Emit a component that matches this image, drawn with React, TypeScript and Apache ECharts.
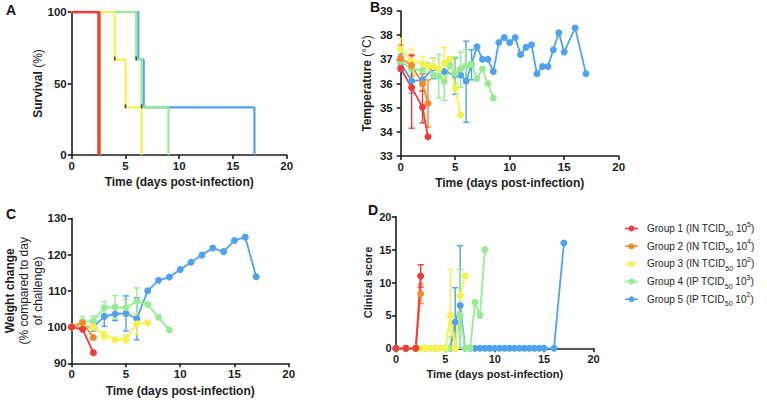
import React, { useEffect, useRef } from 'react';
import * as echarts from 'echarts';

const FONT = '"Liberation Sans", Arial, Helvetica, sans-serif';
const INK = '#1e1e1e';

// ---- groups ----
const groupNames = ['Group 1', 'Group 2', 'Group 3', 'Group 4', 'Group 5'];
const groupRoutes = ['IN', 'IN', 'IN', 'IP', 'IP'];
const groupDoseExp = ['5', '4', '2', '3', '2'];
const groupColors = ['#ef3b3b', '#f5892a', '#f6f24c', '#96ec92', '#4fa2f0'];

// ---- A: survival (%) steps, [day, survival] ----
const survivalG1 = [[0, 100], [2.5, 0]];
const survivalG2 = [[0, 100], [2.6, 0]];
const survivalG3 = [[0, 100], [4, 66.7], [5, 33.3], [6.5, 0]];
const survivalG4 = [[0, 100], [6, 66.7], [6.5, 33.3], [9, 0]];
const survivalG5 = [[0, 100], [6.2, 66.7], [6.7, 33.3], [17, 0]];
const survivalTicks = [[4, 66.7], [5, 33.3], [6, 66.7], [6.5, 33.3]];

// ---- B: temperature (°C), [day, mean] and [day, low, high] ----
const tempG1 = [[0, 36.63], [1, 35.83], [2, 35.02], [2.5, 33.8]];
const tempErrG1 = [[1, 34.15, 37.15], [2, 34.37, 35.7]];
const tempG2 = [[0, 37.04], [1, 36.74], [2, 36.0], [2.5, 35.18]];
const tempErrG2 = [[0, 36.55, 37.6], [1, 36.3, 37.2], [2, 35.7, 36.4], [2.5, 34.2, 36.15]];
const tempG3 = [[0, 37.41], [1, 36.93], [2, 36.83], [2.5, 36.7], [3, 36.7], [3.5, 36.6], [4, 36.85], [4.5, 37.0], [5, 35.8], [5.5, 34.7]];
const tempErrG3 = [[0, 36.95, 37.87], [1, 36.45, 37.42], [2, 36.55, 37.12], [3, 36.35, 37.05], [4, 36.2, 37.5], [4.5, 36.85, 37.1]];
const tempG4 = [[0, 36.9], [1, 36.6], [2, 36.55], [2.5, 36.75], [3, 36.35], [3.5, 36.3], [4, 36.07], [4.5, 36.75], [5, 36.4], [5.5, 36.6], [6, 36.72], [6.5, 36.8], [7, 36.2], [7.5, 36.6], [8, 36.0], [8.5, 35.4]];
const tempErrG4 = [[3.5, 35.4, 37.2], [4, 35.3, 36.85], [5, 36.0, 37.1], [5.5, 35.85, 37.3], [6, 36.0, 37.4]];
const tempG5 = [[0, 36.85], [1, 36.1], [2, 36.15], [3, 36.65], [4, 36.5], [5, 36.35], [5.5, 36.35], [6, 36.1], [6.5, 36.8], [7, 37.52], [7.5, 37.0], [8, 37.0], [8.5, 36.5], [9, 37.7], [9.5, 37.9], [10, 37.7], [10.5, 37.9], [11, 37.2], [11.5, 37.5], [12, 37.6], [12.5, 36.4], [13, 36.7], [13.5, 36.7], [14, 37.4], [14.5, 38.1], [15, 37.3], [16, 38.3], [17, 36.4]];
const tempErrG5 = [[0, 36.5, 37.2], [1, 35.6, 36.6], [2, 35.9, 36.4], [3, 36.2, 37.05], [5, 35.55, 37.05], [6, 34.4, 37.75], [6.5, 36.15, 37.4]];

// ---- C: weight change (%), [day, mean] and [day, low, high] ----
const weightG1 = [[0, 100], [1, 99.4], [2, 92.9]];
const weightErrG1: number[][] = [];
const weightG2 = [[0, 100], [1, 101.2], [2, 97.1]];
const weightErrG2 = [[1, 100.5, 101.9]];
const weightG3 = [[0, 100], [1, 100.6], [2, 100.1], [3, 97.7], [4, 96.5], [5, 96.7], [6, 100.9], [7, 101.2]];
const weightErrG3 = [[1, 99.8, 101.4], [2, 99.0, 101.2], [3, 96.7, 98.7], [4, 96.0, 97.0], [5, 95.6, 97.8], [6, 97.9, 103.7]];
const weightG4 = [[0, 100], [1, 101.5], [2, 101.6], [3, 105.4], [4, 105.5], [5, 105.3], [6, 107.1], [7, 106.2], [8, 102.7], [9, 99.2]];
const weightErrG4 = [[1, 100.4, 102.9], [2, 100.5, 103.0], [3, 103.7, 107.1], [4, 102.2, 108.7], [5, 103.0, 107.6], [6, 103.4, 110.8]];
const weightG5 = [[0, 100], [1, 100.3], [2, 100.0], [3, 102.9], [4, 103.6], [5, 103.8], [6, 102.3], [7, 110.0], [8, 112.9], [9, 113.8], [10, 115.9], [11, 117.9], [12, 119.9], [13, 121.8], [14, 120.8], [15, 123.9], [16, 124.8], [17, 113.9]];
const weightErrG5 = [[2, 98.8, 101.2], [3, 100.2, 105.6], [4, 101.8, 105.5], [5, 98.9, 108.6], [6, 96.5, 108.1]];

// ---- D: clinical score, [day, mean] and [day, low, high] ----
const clinG1 = [[0, 0], [1, 0], [2, 0], [2.5, 11]];
const clinErrG1 = [[2.5, 9.3, 12.7]];
const clinG2 = [[0, 0], [1, 0], [2, 0], [2.5, 8.3]];
const clinErrG2 = [[2.5, 6.8, 9.8]];
const clinG3 = [[0, 0], [1, 0], [2, 0], [2.5, 0], [3, 0], [3.5, 0], [4, 0], [4.5, 0], [5, 0], [5.5, 5], [6, 0], [6.5, 8], [7, 11]];
const clinErrG3 = [[5.5, 0, 12]];
const clinG4 = [[0, 0], [1, 0], [2, 0], [3, 0], [4, 0], [5, 0], [5.5, 0], [6, 0], [6.5, 5], [7, 0], [7.5, 0], [8, 7], [8.5, 5], [9, 15]];
const clinErrG4 = [[5.5, 0, 1.8], [6.5, 0, 12]];
const clinG5 = [[0, 0], [1, 0], [2, 0], [3, 0], [4, 0], [5, 0], [5.5, 0], [6, 4], [6.5, 6.5], [7, 0], [7.5, 0], [8, 0], [8.5, 0], [9, 0], [9.5, 0], [10, 0], [10.5, 0], [11, 0], [11.5, 0], [12, 0], [12.5, 0], [13, 0], [13.5, 0], [14, 0], [14.5, 0], [15, 0], [16, 0], [17, 16]];
const clinErrG5 = [[6, 0, 9.2], [6.5, 0, 15.6]];

const survival = [survivalG1, survivalG2, survivalG3, survivalG4, survivalG5];
const temp = [tempG1, tempG2, tempG3, tempG4, tempG5];
const tempErr = [tempErrG1, tempErrG2, tempErrG3, tempErrG4, tempErrG5];
const weight = [weightG1, weightG2, weightG3, weightG4, weightG5];
const weightErr = [weightErrG1, weightErrG2, weightErrG3, weightErrG4, weightErrG5];
const clin = [clinG1, clinG2, clinG3, clinG4, clinG5];
const clinErr = [clinErrG1, clinErrG2, clinErrG3, clinErrG4, clinErrG5];

// draw order: group 5 at the bottom, group 1 on top
const drawOrder = [4, 3, 2, 1, 0];

const LEGEND_ICON = 'path://M0,2.25H13V3.75H0Z M6.5,0A3,3,0,1,1,6.49,0Z';

function xAxis(gi: number, labelSize: number, titleSize: number, gap: number) {
  return {
    type: 'value', gridIndex: gi, min: 0, max: 20, interval: 5,
    axisLine: { show: true, onZero: false, lineStyle: { color: INK, width: 1.6 } },
    axisTick: { show: true, length: 4, lineStyle: { color: INK, width: 1.6 } },
    axisLabel: { color: INK, fontWeight: 'bold', fontSize: labelSize, fontFamily: FONT, margin: 5 },
    splitLine: { show: false },
    name: 'Time (days post-infection)', nameLocation: 'middle', nameGap: gap,
    nameTextStyle: { color: INK, fontWeight: 'bold', fontSize: titleSize, fontFamily: FONT },
  };
}

function yAxis(gi: number, min: number, max: number, interval: number, name: string, gap: number,
  labelSize: number, titleSize: number, labelMargin: number) {
  return {
    type: 'value', gridIndex: gi, min, max, interval,
    axisLine: { show: true, onZero: false, lineStyle: { color: INK, width: 1.6 } },
    axisTick: { show: true, length: 4, lineStyle: { color: INK, width: 1.6 } },
    axisLabel: { color: INK, fontWeight: 'bold', fontSize: labelSize, fontFamily: FONT, margin: labelMargin },
    splitLine: { show: false },
    name, nameLocation: 'middle', nameGap: gap, nameRotate: 90,
    nameTextStyle: {
      color: INK, fontSize: titleSize, fontFamily: FONT,
      rich: {
        b: { fontWeight: 'bold', fontSize: titleSize, fontFamily: FONT, color: INK, lineHeight: 14 },
        n: { fontWeight: 'normal', fontSize: titleSize, fontFamily: FONT, color: INK, lineHeight: 14 },
      },
    },
  };
}

function errorBars(color: string) {
  return (_params: any, api: any) => {
    const x = api.value(0);
    const hi = api.coord([x, api.value(2)]);
    const lo = api.coord([x, api.value(1)]);
    const w = 3;
    const style = { stroke: color, lineWidth: 1.4 };
    return {
      type: 'group',
      children: [
        { type: 'line', shape: { x1: hi[0], y1: hi[1], x2: lo[0], y2: lo[1] }, style },
        { type: 'line', shape: { x1: hi[0] - w, y1: hi[1], x2: hi[0] + w, y2: hi[1] }, style },
        { type: 'line', shape: { x1: lo[0] - w, y1: lo[1], x2: lo[0] + w, y2: lo[1] }, style },
      ],
    };
  };
}

function markerPanel(gi: number, values: number[][][], errors: number[][][]) {
  const out: any[] = [];
  drawOrder.forEach((g) => {
    const color = groupColors[g];
    if (errors[g].length) {
      out.push({
        type: 'custom', name: groupNames[g], xAxisIndex: gi, yAxisIndex: gi,
        data: errors[g], encode: { x: 0, y: [1, 2] }, renderItem: errorBars(color),
        silent: true, clip: false,
      });
    }
    out.push({
      type: 'line', name: groupNames[g], xAxisIndex: gi, yAxisIndex: gi, data: values[g],
      symbol: 'circle', symbolSize: 7, showSymbol: true, clip: false,
      itemStyle: { color }, lineStyle: { color, width: 1.8 },
      emphasis: { disabled: true }, silent: true,
    });
  });
  return out;
}

function buildOption(): any {
  const series: any[] = [];
  drawOrder.forEach((g) => {
    const color = groupColors[g];
    series.push({
      type: 'line', name: groupNames[g], xAxisIndex: 0, yAxisIndex: 0, data: survival[g],
      step: 'end', showSymbol: false, symbol: 'none',
      lineStyle: { color, width: g < 2 ? 2.6 : 2.1 }, itemStyle: { color },
      emphasis: { disabled: true }, silent: true,
    });
  });
  series.push({
    type: 'scatter', xAxisIndex: 0, yAxisIndex: 0, data: survivalTicks,
    symbol: 'rect', symbolSize: [1.6, 4], symbolOffset: [0, -1],
    itemStyle: { color: '#222' }, silent: true, z: 5,
  });
  series.push(...markerPanel(1, temp, tempErr));
  series.push(...markerPanel(2, weight, weightErr));
  series.push(...markerPanel(3, clin, clinErr));

  const legendRich = {
    f: { fontSize: 10, lineHeight: 16, fontFamily: FONT, color: INK, padding: [0, 0, 0, 4] },
    t: { fontSize: 10, lineHeight: 16, fontFamily: FONT, color: INK },
    s: { fontSize: 7, lineHeight: 10, fontFamily: FONT, color: INK, verticalAlign: 'bottom' },
    p: { fontSize: 7, lineHeight: 10, fontFamily: FONT, color: INK, verticalAlign: 'top' },
  };

  const letter = (text: string, left: number, top: number) => ({
    type: 'text', left, top,
    style: { text, fontSize: 14, fontWeight: 'bold', fontFamily: FONT, fill: '#111' },
  });

  return {
    animation: false,
    backgroundColor: '#ffffff',
    grid: [
      { left: 71.7, top: 12, width: 215, height: 143, outerBoundsMode: 'none' },
      { left: 400.7, top: 11, width: 218, height: 145, outerBoundsMode: 'none' },
      { left: 71.7, top: 218.3, width: 217, height: 145, outerBoundsMode: 'none' },
      { left: 396, top: 216.7, width: 197.5, height: 131.6, outerBoundsMode: 'none' },
    ],
    xAxis: [
      xAxis(0, 11.5, 12, 21),
      xAxis(1, 11.5, 12, 21),
      xAxis(2, 11.5, 12, 22),
      xAxis(3, 11, 11, 20),
    ],
    yAxis: [
      yAxis(0, 0, 100, 50, '{b|Survival} {n|(%)}', 25, 11.5, 12, 5),
      yAxis(1, 33, 39, 1, '{b|Temperature} {n|(°C)}', 27, 11.5, 12, 8),
      yAxis(2, 90, 130, 10, '{b|Weight change}\n{n|(% compared to day}\n{n|of challenge)}', 27, 11.5, 12, 5),
      yAxis(3, 0, 20, 5, '{b|Clinical score}', 21, 11, 11, 4.5),
    ],
    legend: {
      orient: 'vertical', left: 625, top: 220.5, padding: 0, itemGap: 1.7,
      itemWidth: 13, itemHeight: 6, selectedMode: false,
      data: groupNames.map((name, i) => ({ name, icon: LEGEND_ICON, itemStyle: { color: groupColors[i], borderWidth: 0 } })),
      formatter: (name: string) => {
        const i = groupNames.indexOf(name);
        return `{f|${name}}{t| (${groupRoutes[i]} TCID}{s|50}{t| 10}{p|${groupDoseExp[i]}}{t|)}`;
      },
      textStyle: { color: INK, fontFamily: FONT, fontSize: 10, rich: legendRich },
    },
    graphic: [
      letter('A', 6, 3),
      letter('B', 370, 0),
      letter('C', 6, 207),
      letter('D', 368, 203),
    ],
    series,
  };
}

export default function App() {
  const ref = useRef<HTMLDivElement>(null);
  useEffect(() => {
    if (!ref.current) return;
    const chart = echarts.init(ref.current, null, { renderer: 'svg' });
    chart.setOption(buildOption());
    return () => chart.dispose();
  }, []);
  return (
    <div
      ref={ref}
      style={{ position: 'absolute', left: 0, top: 0, width: 767, height: 403, background: '#fff' }}
    />
  );
}
